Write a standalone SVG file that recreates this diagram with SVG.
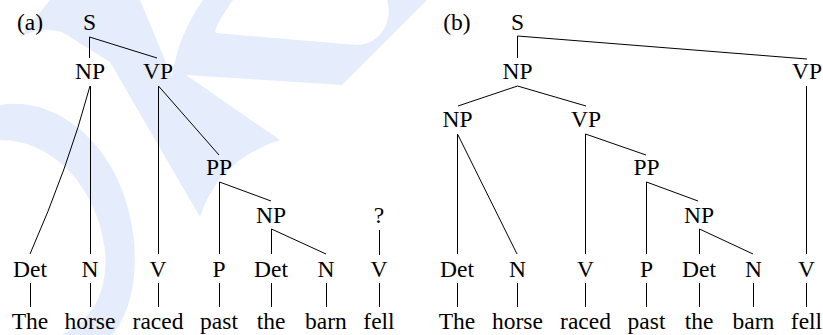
<svg xmlns="http://www.w3.org/2000/svg" width="823" height="335" viewBox="0 0 823 335">
<style>
  .t text { font-family: 'Liberation Serif', 'Times New Roman', serif; font-size: 23.5px; fill: #000; text-anchor: middle; }
  .edge { stroke: #000; stroke-width: 1; fill: none; }
  .wm { fill: #e5ecfc; stroke: none; }
</style>
<rect width="823" height="335" fill="#ffffff"/>
<g id="watermark">
  <path class="wm" d="M 50,0 L 20,37 Q 40,26 62,32 L 110,62 L 200,217 Q 218,160 280,140 L 186,75 L 342,85 L 427,0 L 387,0 C 393,20 382,44 357,45 L 216,33 Q 212,30 233,0 L 203,0 Q 178,35 172,77 L 140,0 Z"/>
  <path class="wm" d="M 0,105 C 60,95 125,150 134,240 C 138,290 125,320 112,335 L 62,335 C 95,318 108,290 105,250 C 98,190 55,140 0,140 Z"/>
</g>
<g id="connectors">
  <line class="edge" x1="89.5" y1="37" x2="89.5" y2="58"/>
  <line class="edge" x1="89.5" y1="37" x2="157" y2="58"/>
  <path class="edge" d="M 90,86 Q 68,168 30,254"/>
  <line class="edge" x1="90.5" y1="86" x2="90.5" y2="254"/>
  <line class="edge" x1="158.5" y1="86" x2="158.5" y2="254"/>
  <line class="edge" x1="158.5" y1="86" x2="219" y2="155"/>
  <line class="edge" x1="219.5" y1="182" x2="219.5" y2="254"/>
  <line class="edge" x1="219.5" y1="182" x2="271" y2="201"/>
  <line class="edge" x1="271.5" y1="229" x2="271.5" y2="254"/>
  <line class="edge" x1="271.5" y1="229" x2="326" y2="254"/>
  <line class="edge" x1="379.5" y1="230" x2="379.5" y2="255"/>
  <line class="edge" x1="30.5" y1="283" x2="30.5" y2="307"/>
  <line class="edge" x1="90.5" y1="283" x2="90.5" y2="307"/>
  <line class="edge" x1="158.5" y1="283" x2="158.5" y2="307"/>
  <line class="edge" x1="219.5" y1="283" x2="219.5" y2="307"/>
  <line class="edge" x1="271.5" y1="283" x2="271.5" y2="307"/>
  <line class="edge" x1="326.5" y1="283" x2="326.5" y2="307"/>
  <line class="edge" x1="379.5" y1="283" x2="379.5" y2="307"/>
  <line class="edge" x1="517.5" y1="36" x2="517.5" y2="58"/>
  <line class="edge" x1="517.5" y1="36" x2="807" y2="59"/>
  <line class="edge" x1="517.5" y1="86" x2="458" y2="106"/>
  <line class="edge" x1="517.5" y1="86" x2="586" y2="106"/>
  <line class="edge" x1="806.5" y1="86" x2="806.5" y2="254"/>
  <line class="edge" x1="457.5" y1="134" x2="457.5" y2="254"/>
  <line class="edge" x1="457.5" y1="134" x2="517" y2="254"/>
  <line class="edge" x1="585.5" y1="134" x2="585.5" y2="254"/>
  <line class="edge" x1="585.5" y1="134" x2="646" y2="155"/>
  <line class="edge" x1="646.5" y1="182" x2="646.5" y2="254"/>
  <line class="edge" x1="646.5" y1="182" x2="698" y2="201"/>
  <line class="edge" x1="699.5" y1="229" x2="699.5" y2="254"/>
  <line class="edge" x1="699.5" y1="229" x2="753" y2="254"/>
  <line class="edge" x1="457.5" y1="283" x2="457.5" y2="307"/>
  <line class="edge" x1="517.5" y1="283" x2="517.5" y2="307"/>
  <line class="edge" x1="585.5" y1="283" x2="585.5" y2="307"/>
  <line class="edge" x1="646.5" y1="283" x2="646.5" y2="307"/>
  <line class="edge" x1="699.5" y1="283" x2="699.5" y2="307"/>
  <line class="edge" x1="753.5" y1="283" x2="753.5" y2="307"/>
  <line class="edge" x1="806.5" y1="283" x2="806.5" y2="307"/>
</g>
<g class="t">
<g id="a-label"><text x="30" y="30">(a)</text></g>
<g id="a-S"><text x="89.5" y="30">S</text></g>
<g id="a-NP"><text x="90" y="79">NP</text></g>
<g id="a-VP"><text x="158" y="79">VP</text></g>
<g id="a-PP"><text x="219" y="175">PP</text></g>
<g id="a-NP2"><text x="271" y="223">NP</text></g>
<g id="a-Q"><text x="379" y="223">?</text></g>
<g id="a-Det1"><text x="30" y="277">Det</text></g>
<g id="a-N1"><text x="90" y="277">N</text></g>
<g id="a-V1"><text x="158" y="277">V</text></g>
<g id="a-P"><text x="219" y="277">P</text></g>
<g id="a-Det2"><text x="271" y="277">Det</text></g>
<g id="a-N2"><text x="326" y="277">N</text></g>
<g id="a-V2"><text x="379" y="277">V</text></g>
<g id="a-w-The"><text x="30" y="329">The</text></g>
<g id="a-w-horse"><text x="90" y="329">horse</text></g>
<g id="a-w-raced"><text x="158" y="329">raced</text></g>
<g id="a-w-past"><text x="219" y="329">past</text></g>
<g id="a-w-the"><text x="271" y="329">the</text></g>
<g id="a-w-barn"><text x="326" y="329">barn</text></g>
<g id="a-w-fell"><text x="379" y="329">fell</text></g>
<g id="b-label"><text x="457" y="30">(b)</text></g>
<g id="b-S"><text x="517.5" y="30">S</text></g>
<g id="b-NP"><text x="517.5" y="79">NP</text></g>
<g id="b-VP"><text x="807" y="79">VP</text></g>
<g id="b-NP2"><text x="457.5" y="127">NP</text></g>
<g id="b-VP2"><text x="586" y="127">VP</text></g>
<g id="b-PP"><text x="646.5" y="175">PP</text></g>
<g id="b-NP3"><text x="699" y="223">NP</text></g>
<g id="b-Det1"><text x="457" y="277">Det</text></g>
<g id="b-N1"><text x="517.5" y="277">N</text></g>
<g id="b-V1"><text x="585.5" y="277">V</text></g>
<g id="b-P"><text x="646.5" y="277">P</text></g>
<g id="b-Det2"><text x="699" y="277">Det</text></g>
<g id="b-N2"><text x="753.5" y="277">N</text></g>
<g id="b-V2"><text x="806.5" y="277">V</text></g>
<g id="b-w-The"><text x="457" y="329">The</text></g>
<g id="b-w-horse"><text x="517.5" y="329">horse</text></g>
<g id="b-w-raced"><text x="585.5" y="329">raced</text></g>
<g id="b-w-past"><text x="646.5" y="329">past</text></g>
<g id="b-w-the"><text x="699" y="329">the</text></g>
<g id="b-w-barn"><text x="753.5" y="329">barn</text></g>
<g id="b-w-fell"><text x="806.5" y="329">fell</text></g>
</g>
</svg>
